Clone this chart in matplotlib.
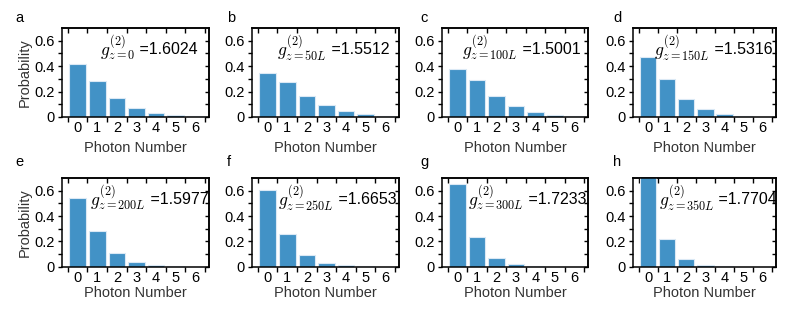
import numpy as np
import matplotlib
matplotlib.use("Agg")
import matplotlib.pyplot as plt
from matplotlib.ticker import FixedLocator

plt.rcParams['font.family'] = ['Liberation Sans', 'DejaVu Sans']
plt.rcParams['mathtext.fontset'] = 'cm'

photon_n = [0, 1, 2, 3, 4, 5, 6]
panel_labels = ['a', 'b', 'c', 'd', 'e', 'f', 'g', 'h']
z_labels = ['0', '50L', '100L', '150L', '200L', '250L', '300L', '350L']
g2_values = ['1.6024', '1.5512', '1.5001', '1.5316', '1.5977', '1.6653', '1.7233', '1.7704']

p_a = [0.418, 0.287, 0.152, 0.073, 0.034, 0.016, 0.006]
p_b = [0.344, 0.279, 0.167, 0.091, 0.047, 0.021, 0.010]
p_c = [0.378, 0.290, 0.164, 0.083, 0.037, 0.016, 0.006]
p_d = [0.468, 0.295, 0.139, 0.060, 0.024, 0.008, 0.003]
p_e = [0.545, 0.279, 0.110, 0.039, 0.013, 0.004, 0.001]
p_f = [0.605, 0.261, 0.091, 0.029, 0.010, 0.003, 0.001]
p_g = [0.652, 0.237, 0.070, 0.018, 0.004, 0.001, 0.001]
p_h = [0.720, 0.221, 0.058, 0.013, 0.003, 0.001, 0.000]
probs = [p_a, p_b, p_c, p_d, p_e, p_f, p_g, p_h]

# text x-position (axes fraction) per panel
text_x = [0.26, 0.17, 0.14, 0.15, 0.19, 0.18, 0.18, 0.18]

bar_color = '#4292c6'
lab_color = '#333333'

W, H = 789, 311
lefts = [62, 252, 442, 633]
widths = [147, 147, 146, 143]
letter_x = [15, 227, 420, 613]
letter_y = [18, 162]
row_top = [28, 178]
row_bot = [117, 266.7]
label_pad = [4, 0.5]


def style_axes(ax):
    ax.set_xlim(-0.8, 6.7)
    ax.set_ylim(0, 0.7)
    half = np.arange(-0.5, 7.0, 1.0)
    ax.set_xticks(photon_n)
    ax.set_xticklabels([str(n) for n in photon_n])
    ax.xaxis.set_minor_locator(FixedLocator(half))
    ax.tick_params(axis='x', which='major', length=0, labelsize=10.5, pad=3)
    ax.tick_params(axis='x', which='minor', length=3.5, width=1, direction='out')
    ax.set_yticks([0, 0.2, 0.4, 0.6])
    ax.set_yticklabels(['0', '0.2', '0.4', '0.6'])
    ax.yaxis.set_minor_locator(FixedLocator([0.1, 0.3, 0.5]))
    ax.tick_params(axis='y', which='major', length=3, width=1, direction='out', labelsize=10.5, pad=2)
    ax.tick_params(axis='y', which='minor', length=3, width=1, direction='out')
    for sp in ax.spines.values():
        sp.set_linewidth(1.1)

    top = ax.secondary_xaxis('top')
    top.set_xticks(half)
    top.tick_params(axis='x', which='major', length=3.5, width=1, direction='in', labeltop=False)
    top.xaxis.set_minor_locator(FixedLocator([]))
    right = ax.secondary_yaxis('right')
    right.set_yticks([0, 0.1, 0.2, 0.3, 0.4, 0.5, 0.6])
    right.tick_params(axis='y', which='major', length=3, width=1, direction='in', labelright=False)
    right.yaxis.set_minor_locator(FixedLocator([]))
    for sp in list(top.spines.values()) + list(right.spines.values()):
        sp.set_linewidth(1.1)


fig = plt.figure(figsize=(W / 100, H / 100), dpi=100)

for i in range(8):
    r, c = divmod(i, 4)
    rect = [lefts[c] / W, 1 - row_bot[r] / H, widths[c] / W, (row_bot[r] - row_top[r]) / H]
    ax = fig.add_axes(rect)
    ax.bar(photon_n, probs[i], width=0.85, color=bar_color, edgecolor='#dbe9f5', linewidth=0.8)
    style_axes(ax)
    ax.set_xlabel('Photon Number', fontsize=10.5, color=lab_color, labelpad=label_pad[r])
    if c == 0:
        ax.set_ylabel('Probability', fontsize=10.5, color=lab_color, labelpad=2)
    g_txt = ax.text(text_x[i], 0.77, r'$g_{z=%s}^{(2)}$' % z_labels[i],
                    transform=ax.transAxes, fontsize=12.5, va='center', ha='left', clip_on=False)
    ax.annotate(' =' + g2_values[i], xy=(1.0, 0.47), xycoords=g_txt,
                fontsize=11.5, va='center', ha='left', annotation_clip=False)
    fig.text(letter_x[c] / W, 1 - letter_y[r] / H, panel_labels[i],
             fontsize=10.5, va='center', ha='left')

fig.savefig('out.png', dpi=100)
